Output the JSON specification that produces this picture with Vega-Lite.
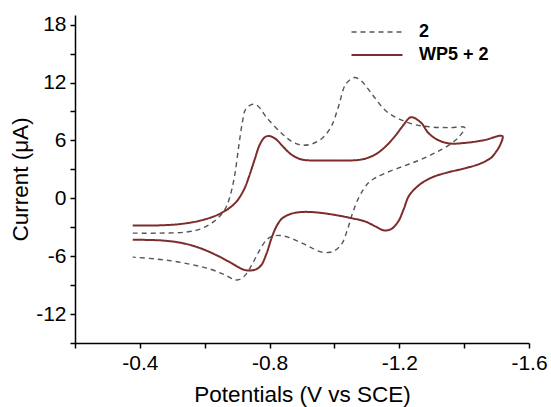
{
  "$schema": "https://vega.github.io/schema/vega-lite/v6.json",
  "width": 454,
  "height": 328,
  "autosize": "none",
  "padding": {"left": 75, "top": 15, "right": 22, "bottom": 64},
  "background": "white",
  "config": {
    "view": {"stroke": null},
    "font": "Liberation Sans"
  },
  "data": {
    "values": [
      {"s": "2", "n": 1, "v": -0.378, "i": -3.61},
      {"s": "2", "n": 2, "v": -0.456, "i": -3.61},
      {"s": "2", "n": 3, "v": -0.543, "i": -3.5},
      {"s": "2", "n": 4, "v": -0.586, "i": -3.19},
      {"s": "2", "n": 5, "v": -0.629, "i": -2.39},
      {"s": "2", "n": 6, "v": -0.662, "i": -1.18},
      {"s": "2", "n": 7, "v": -0.678, "i": 0.21},
      {"s": "2", "n": 8, "v": -0.692, "i": 2.29},
      {"s": "2", "n": 9, "v": -0.705, "i": 5.41},
      {"s": "2", "n": 10, "v": -0.716, "i": 7.84},
      {"s": "2", "n": 11, "v": -0.726, "i": 9.22},
      {"s": "2", "n": 12, "v": -0.748, "i": 9.75},
      {"s": "2", "n": 13, "v": -0.764, "i": 9.57},
      {"s": "2", "n": 14, "v": -0.791, "i": 8.36},
      {"s": "2", "n": 15, "v": -0.835, "i": 6.8},
      {"s": "2", "n": 16, "v": -0.867, "i": 5.93},
      {"s": "2", "n": 17, "v": -0.899, "i": 5.51},
      {"s": "2", "n": 18, "v": -0.932, "i": 5.65},
      {"s": "2", "n": 19, "v": -0.964, "i": 6.28},
      {"s": "2", "n": 20, "v": -0.991, "i": 7.49},
      {"s": "2", "n": 21, "v": -1.013, "i": 9.57},
      {"s": "2", "n": 22, "v": -1.035, "i": 11.83},
      {"s": "2", "n": 23, "v": -1.062, "i": 12.52},
      {"s": "2", "n": 24, "v": -1.083, "i": 12.17},
      {"s": "2", "n": 25, "v": -1.116, "i": 10.79},
      {"s": "2", "n": 26, "v": -1.159, "i": 9.05},
      {"s": "2", "n": 27, "v": -1.202, "i": 8.18},
      {"s": "2", "n": 28, "v": -1.245, "i": 7.66},
      {"s": "2", "n": 29, "v": -1.299, "i": 7.39},
      {"s": "2", "n": 30, "v": -1.353, "i": 7.32},
      {"s": "2", "n": 31, "v": -1.402, "i": 7.32},
      {"s": "2", "n": 32, "v": -1.386, "i": 6.45},
      {"s": "2", "n": 33, "v": -1.364, "i": 5.76},
      {"s": "2", "n": 34, "v": -1.321, "i": 4.89},
      {"s": "2", "n": 35, "v": -1.267, "i": 4.02},
      {"s": "2", "n": 36, "v": -1.213, "i": 3.33},
      {"s": "2", "n": 37, "v": -1.159, "i": 2.64},
      {"s": "2", "n": 38, "v": -1.126, "i": 2.12},
      {"s": "2", "n": 39, "v": -1.105, "i": 1.6},
      {"s": "2", "n": 40, "v": -1.089, "i": 0.9},
      {"s": "2", "n": 41, "v": -1.072, "i": -0.14},
      {"s": "2", "n": 42, "v": -1.056, "i": -1.53},
      {"s": "2", "n": 43, "v": -1.04, "i": -3.26},
      {"s": "2", "n": 44, "v": -1.024, "i": -4.65},
      {"s": "2", "n": 45, "v": -1.002, "i": -5.41},
      {"s": "2", "n": 46, "v": -0.981, "i": -5.62},
      {"s": "2", "n": 47, "v": -0.953, "i": -5.51},
      {"s": "2", "n": 48, "v": -0.921, "i": -4.99},
      {"s": "2", "n": 49, "v": -0.889, "i": -4.47},
      {"s": "2", "n": 50, "v": -0.856, "i": -4.02},
      {"s": "2", "n": 51, "v": -0.83, "i": -3.85},
      {"s": "2", "n": 52, "v": -0.808, "i": -3.95},
      {"s": "2", "n": 53, "v": -0.791, "i": -4.3},
      {"s": "2", "n": 54, "v": -0.77, "i": -5.34},
      {"s": "2", "n": 55, "v": -0.748, "i": -6.73},
      {"s": "2", "n": 56, "v": -0.726, "i": -7.94},
      {"s": "2", "n": 57, "v": -0.708, "i": -8.4},
      {"s": "2", "n": 58, "v": -0.694, "i": -8.46},
      {"s": "2", "n": 59, "v": -0.662, "i": -7.94},
      {"s": "2", "n": 60, "v": -0.618, "i": -7.35},
      {"s": "2", "n": 61, "v": -0.564, "i": -6.9},
      {"s": "2", "n": 62, "v": -0.51, "i": -6.55},
      {"s": "2", "n": 63, "v": -0.445, "i": -6.28},
      {"s": "2", "n": 64, "v": -0.378, "i": -6.1},

      {"s": "WP5 + 2", "n": 1, "v": -0.378, "i": -2.81},
      {"s": "WP5 + 2", "n": 2, "v": -0.456, "i": -2.81},
      {"s": "WP5 + 2", "n": 3, "v": -0.532, "i": -2.64},
      {"s": "WP5 + 2", "n": 4, "v": -0.597, "i": -2.22},
      {"s": "WP5 + 2", "n": 5, "v": -0.651, "i": -1.53},
      {"s": "WP5 + 2", "n": 6, "v": -0.694, "i": -0.49},
      {"s": "WP5 + 2", "n": 7, "v": -0.721, "i": 0.9},
      {"s": "WP5 + 2", "n": 8, "v": -0.737, "i": 2.29},
      {"s": "WP5 + 2", "n": 9, "v": -0.754, "i": 4.02},
      {"s": "WP5 + 2", "n": 10, "v": -0.77, "i": 5.58},
      {"s": "WP5 + 2", "n": 11, "v": -0.786, "i": 6.35},
      {"s": "WP5 + 2", "n": 12, "v": -0.8, "i": 6.45},
      {"s": "WP5 + 2", "n": 13, "v": -0.818, "i": 6.17},
      {"s": "WP5 + 2", "n": 14, "v": -0.84, "i": 5.41},
      {"s": "WP5 + 2", "n": 15, "v": -0.867, "i": 4.54},
      {"s": "WP5 + 2", "n": 16, "v": -0.899, "i": 4.02},
      {"s": "WP5 + 2", "n": 17, "v": -0.943, "i": 3.92},
      {"s": "WP5 + 2", "n": 18, "v": -1.008, "i": 3.92},
      {"s": "WP5 + 2", "n": 19, "v": -1.083, "i": 4.02},
      {"s": "WP5 + 2", "n": 20, "v": -1.126, "i": 4.54},
      {"s": "WP5 + 2", "n": 21, "v": -1.159, "i": 5.41},
      {"s": "WP5 + 2", "n": 22, "v": -1.191, "i": 6.62},
      {"s": "WP5 + 2", "n": 23, "v": -1.213, "i": 7.6},
      {"s": "WP5 + 2", "n": 24, "v": -1.236, "i": 8.4},
      {"s": "WP5 + 2", "n": 25, "v": -1.267, "i": 7.84},
      {"s": "WP5 + 2", "n": 26, "v": -1.289, "i": 6.8},
      {"s": "WP5 + 2", "n": 27, "v": -1.316, "i": 6.1},
      {"s": "WP5 + 2", "n": 28, "v": -1.353, "i": 5.69},
      {"s": "WP5 + 2", "n": 29, "v": -1.408, "i": 5.76},
      {"s": "WP5 + 2", "n": 30, "v": -1.462, "i": 6.03},
      {"s": "WP5 + 2", "n": 31, "v": -1.518, "i": 6.45},
      {"s": "WP5 + 2", "n": 32, "v": -1.512, "i": 5.6},
      {"s": "WP5 + 2", "n": 33, "v": -1.5, "i": 4.9},
      {"s": "WP5 + 2", "n": 34, "v": -1.483, "i": 4.2},
      {"s": "WP5 + 2", "n": 35, "v": -1.451, "i": 3.61},
      {"s": "WP5 + 2", "n": 36, "v": -1.408, "i": 3.16},
      {"s": "WP5 + 2", "n": 37, "v": -1.353, "i": 2.71},
      {"s": "WP5 + 2", "n": 38, "v": -1.31, "i": 2.29},
      {"s": "WP5 + 2", "n": 39, "v": -1.278, "i": 1.77},
      {"s": "WP5 + 2", "n": 40, "v": -1.251, "i": 1.08},
      {"s": "WP5 + 2", "n": 41, "v": -1.229, "i": 0.21},
      {"s": "WP5 + 2", "n": 42, "v": -1.213, "i": -1.18},
      {"s": "WP5 + 2", "n": 43, "v": -1.197, "i": -2.39},
      {"s": "WP5 + 2", "n": 44, "v": -1.175, "i": -3.19},
      {"s": "WP5 + 2", "n": 45, "v": -1.153, "i": -3.33},
      {"s": "WP5 + 2", "n": 46, "v": -1.126, "i": -2.91},
      {"s": "WP5 + 2", "n": 47, "v": -1.094, "i": -2.39},
      {"s": "WP5 + 2", "n": 48, "v": -1.051, "i": -2.05},
      {"s": "WP5 + 2", "n": 49, "v": -0.997, "i": -1.7},
      {"s": "WP5 + 2", "n": 50, "v": -0.943, "i": -1.46},
      {"s": "WP5 + 2", "n": 51, "v": -0.899, "i": -1.42},
      {"s": "WP5 + 2", "n": 52, "v": -0.867, "i": -1.6},
      {"s": "WP5 + 2", "n": 53, "v": -0.84, "i": -2.05},
      {"s": "WP5 + 2", "n": 54, "v": -0.824, "i": -2.74},
      {"s": "WP5 + 2", "n": 55, "v": -0.808, "i": -3.95},
      {"s": "WP5 + 2", "n": 56, "v": -0.791, "i": -5.69},
      {"s": "WP5 + 2", "n": 57, "v": -0.775, "i": -6.9},
      {"s": "WP5 + 2", "n": 58, "v": -0.759, "i": -7.35},
      {"s": "WP5 + 2", "n": 59, "v": -0.737, "i": -7.49},
      {"s": "WP5 + 2", "n": 60, "v": -0.716, "i": -7.35},
      {"s": "WP5 + 2", "n": 61, "v": -0.683, "i": -6.73},
      {"s": "WP5 + 2", "n": 62, "v": -0.64, "i": -5.96},
      {"s": "WP5 + 2", "n": 63, "v": -0.586, "i": -5.17},
      {"s": "WP5 + 2", "n": 64, "v": -0.532, "i": -4.65},
      {"s": "WP5 + 2", "n": 65, "v": -0.467, "i": -4.37},
      {"s": "WP5 + 2", "n": 66, "v": -0.378, "i": -4.3}
    ]
  },
  "mark": {"type": "line", "interpolate": "catmull-rom", "clip": true},
  "encoding": {
    "x": {
      "field": "v", "type": "quantitative",
      "scale": {"domain": [-1.6, -0.2], "reverse": true, "nice": false, "zero": false},
      "axis": {
        "title": "Potentials (V vs SCE)",
        "values": [-0.2, -0.4, -0.6, -0.8, -1.0, -1.2, -1.4, -1.6],
        "labelExpr": "abs(round(datum.value*10)) % 4 == 0 ? '-' + format(abs(datum.value), '.1f') : ''",
        "grid": false, "domainColor": "black", "domainWidth": 1.5,
        "tickColor": "black", "tickWidth": 1.5, "tickSize": 5,
        "labelFontSize": 21, "labelColor": "black", "labelPadding": 4, "labelFont": "Liberation Sans",
        "labelFlush": false, "labelOverlap": false,
        "titleFontSize": 22.5, "titleFontWeight": "normal", "titleColor": "black", "titleFont": "Liberation Sans",
        "titlePadding": 10
      }
    },
    "y": {
      "field": "i", "type": "quantitative",
      "scale": {"domain": [-15, 19], "nice": false, "zero": false},
      "axis": {
        "title": "Current (μA)",
        "values": [-15, -12, -9, -6, -3, 0, 3, 6, 9, 12, 15, 18],
        "labelExpr": "datum.value % 6 == 0 ? (datum.value < 0 ? '-' + abs(datum.value) : '' + datum.value) : ''",
        "grid": false, "domainColor": "black", "domainWidth": 1.5,
        "tickColor": "black", "tickWidth": 1.5, "tickSize": 5,
        "labelFontSize": 21, "labelColor": "black", "labelPadding": 4, "labelFont": "Liberation Sans",
        "labelFlush": false, "labelOverlap": false,
        "titleFontSize": 22.5, "titleFontWeight": "normal", "titleColor": "black", "titleFont": "Liberation Sans",
        "titlePadding": 3
      }
    },
    "order": {"field": "n", "type": "quantitative"},
    "color": {
      "field": "s", "type": "nominal",
      "scale": {"domain": ["2", "WP5 + 2"], "range": ["#555555", "#7d2c2c"]},
      "legend": {
        "title": null, "orient": "none", "legendX": 293, "legendY": 8,
        "symbolType": "M-5,0H5", "symbolSize": 104, "symbolStrokeWidth": 2.2,
        "labelFontSize": 18, "labelFontWeight": "bold", "labelColor": "black", "labelFont": "Liberation Sans",
        "labelOffset": 33, "rowPadding": 5, "padding": 0
      }
    },
    "strokeDash": {
      "field": "s", "type": "nominal",
      "scale": {"domain": ["2", "WP5 + 2"], "range": [[5, 4], [1, 0]]},
      "legend": null
    },
    "strokeWidth": {
      "field": "s", "type": "nominal",
      "scale": {"domain": ["2", "WP5 + 2"], "range": [1.4, 2]},
      "legend": null
    }
  }
}
